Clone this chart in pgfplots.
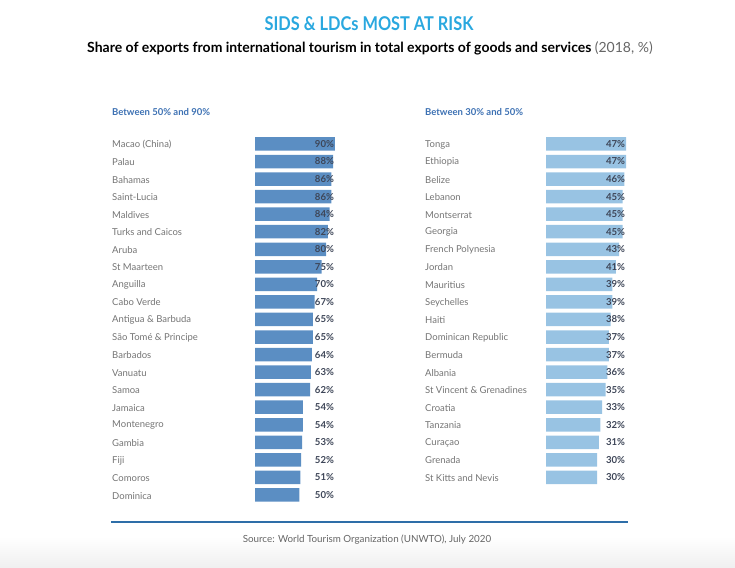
\documentclass[border=0pt]{standalone}
\usepackage{pgfplots}
\pgfplotsset{compat=1.18}
\usepackage{pgfplotstable}
\usepackage{fontspec}
\setmainfont{Lato}
\definecolor{leftbar}{HTML}{5B8EC3}
\definecolor{rightbar}{HTML}{98C3E3}
\definecolor{titlecyan}{HTML}{2AA8DF}
\definecolor{headblue}{HTML}{3D71B3}
\definecolor{namegray}{HTML}{747474}
\definecolor{valdark}{HTML}{3E4658}
\definecolor{linecol}{HTML}{2E6EA8}

\pgfplotstableread{
idx val
0 90
1 88
2 86
3 86
4 84
5 82
6 80
7 75
8 70
9 67
10 65
11 65
12 64
13 63
14 62
15 54
16 54
17 53
18 52
19 51
20 50
}\lefttab

\pgfplotstableread{
idx val
0 47
1 47
2 46
3 45
4 45
5 45
6 43
7 41
8 39
9 39
10 38
11 37
12 37
13 36
14 35
15 33
16 32
17 31
18 30
19 30
}\righttab

\pgfplotsset{
  panel/.style={
    scale only axis, clip=false,
    width=80pt,
    xmin=0, y dir=reverse,
    axis line style={draw=none},
    major tick length=0pt,
    xtick=\empty,
    /pgf/number format/assume math mode=true,
    yticklabel style={anchor=west, inner xsep=0pt, yshift=-0.6pt, font=\fontsize{9.5}{11}\selectfont, text=namegray},
  },
  vals/.style={
    only marks, mark=none, point meta=explicit,
    nodes near coords={\pgfmathprintnumber[fixed,precision=0,assume math mode=true]{\pgfplotspointmeta}\%},
    nodes near coords style={anchor=east, inner xsep=0.8pt, font=\bfseries\fontsize{9.6}{11}\selectfont, text=valdark},
  },
}

\begin{document}
\begin{tikzpicture}
\useasboundingbox (0pt,0pt) rectangle (735pt,567pt);
\shade[top color=white, bottom color=black!6] (0pt,0pt) rectangle (735pt,30pt);

\node[anchor=center, text=titlecyan, font=\bfseries\fontsize{19}{22}\selectfont] at (369pt,543pt) {\scalebox{0.86}[1]{SIDS \& LDCs MOST AT RISK}};
\node[anchor=center, font=\fontsize{14}{16}\selectfont] at (370pt,519pt) {\textbf{Share of exports from international tourism in total exports of goods and services} {\color{black!60}(2018, \%)}};

\node[anchor=west, inner sep=0pt, text=headblue, font=\bfseries\fontsize{9.5}{11}\selectfont] at (112pt,455pt) {Between 50\% and 90\%};
\node[anchor=west, inner sep=0pt, text=headblue, font=\bfseries\fontsize{9.5}{11}\selectfont] at (425pt,455pt) {Between 30\% and 50\%};

\begin{axis}[panel,
  at={(255pt,431.8pt)}, anchor=north west,
  xmax=90, height=368.55pt,
  ymin=-0.5, ymax=20.5,
  ytick={0,...,20},
  yticklabels={Macao (China),Palau,Bahamas,Saint-Lucia,Maldives,Turks and Caicos,Aruba,St Maarteen,Anguilla,Cabo Verde,Antigua \& Barbuda,São Tomé \& Principe,Barbados,Vanuatu,Samoa,Jamaica,Montenegro,Gambia,Fiji,Comoros,Dominica},
  yticklabel style={xshift=-143pt},
]
\addplot[xbar, bar width=13.5pt, fill=leftbar, draw=none] table[x=val, y=idx] {\lefttab};
\addplot[vals] table[x expr=90, y=idx, meta=val] {\lefttab};
\end{axis}

\begin{axis}[panel,
  at={(546pt,431.8pt)}, anchor=north west,
  xmax=47, height=351pt,
  ymin=-0.5, ymax=19.5,
  ytick={0,...,19},
  yticklabels={Tonga,Ethiopia,Belize,Lebanon,Montserrat,Georgia,French Polynesia,Jordan,Mauritius,Seychelles,Haiti,Dominican Republic,Bermuda,Albania,St Vincent \& Grenadines,Croatia,Tanzania,Curaçao,Grenada,St Kitts and Nevis},
  yticklabel style={xshift=-121pt},
]
\addplot[xbar, bar width=13.5pt, fill=rightbar, draw=none] table[x=val, y=idx] {\righttab};
\addplot[vals] table[x expr=47, y=idx, meta=val] {\righttab};
\end{axis}

\draw[linecol, line width=1.2pt] (111pt,45pt) -- (628pt,45pt);
\node[anchor=center, text=black!60, font=\fontsize{9.8}{11}\selectfont] at (367pt,27pt) {Source: World Tourism Organization (UNWTO), July 2020};
\end{tikzpicture}
\end{document}
